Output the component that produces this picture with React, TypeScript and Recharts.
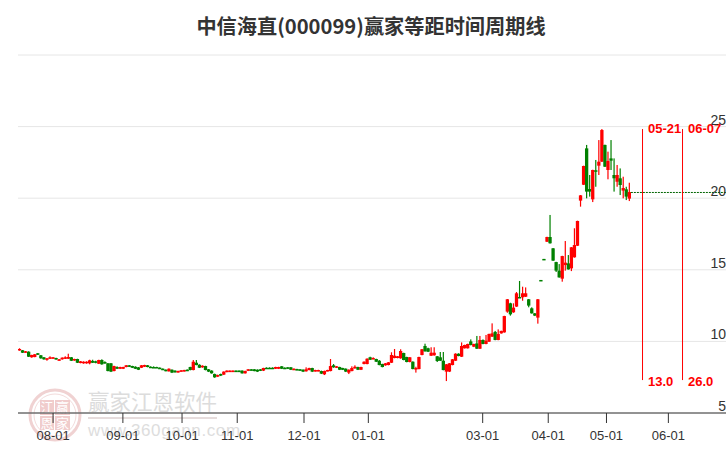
import React from 'react';
import { ComposedChart, Bar, XAxis, YAxis, CartesianGrid, ReferenceLine, ReferenceDot } from 'recharts';

const TITLE = '中信海直(000099)赢家等距时间周期线';

const opens = [
  9.38,9.38,9.24,9.28,8.89,8.91,9.17,9.03,8.89,8.72,
  8.79,8.82,8.84,8.68,8.75,8.79,8.79,8.89,8.68,8.77,
  8.49,8.47,8.47,8.47,8.63,8.61,8.44,8.70,8.56,8.47,
  8.47,7.93,8.21,8.09,8.09,8.21,8.33,8.28,8.23,8.19,
  8.16,8.23,8.33,8.23,8.21,8.21,8.16,8.09,8.02,7.91,
  8.02,7.96,7.84,7.91,7.91,8.02,8.21,8.00,8.51,8.37,
  8.19,8.28,8.05,7.96,7.72,7.54,7.72,7.68,7.86,7.89,
  7.89,7.96,7.96,7.96,7.77,7.96,8.05,8.05,8.02,8.05,
  7.96,8.16,8.16,8.16,8.09,8.09,8.26,8.16,8.19,8.19,
  8.02,8.07,8.05,8.02,7.91,8.00,8.14,7.91,7.93,7.93,
  7.70,7.93,7.93,8.33,8.16,8.21,8.14,8.09,7.82,7.93,
  8.12,8.21,8.02,8.42,8.42,8.89,8.77,8.77,8.65,8.42,
  8.33,8.35,8.51,8.84,8.84,8.82,9.19,8.91,8.56,8.58,
  8.05,8.07,9.05,9.68,9.52,9.00,9.03,8.96,8.89,8.65,
  7.89,7.89,8.35,8.65,9.14,8.93,9.52,9.52,10.00,9.63,
  9.86,9.49,10.10,9.82,9.98,10.33,10.66,10.10,10.56,10.63,
  12.08,12.66,12.03,12.43,13.10,13.08,13.12,12.94,12.31,11.96,
  11.66,14.29,15.76,16.96,17.29,16.50,15.54,14.94,14.38,15.33,
  15.45,15.10,15.87,16.68,19.83,20.94,23.48,20.64,19.92,21.95,
  22.27,22.55,23.72,21.97,22.78,21.62,21.15,21.39,20.53,20.62,19.97,
];
const closes = [
  9.47,9.21,9.31,8.93,9.05,9.10,9.07,8.82,8.75,8.82,
  8.89,8.89,8.75,8.75,8.86,8.89,8.91,8.65,8.77,8.51,
  8.61,8.58,8.58,8.68,8.51,8.51,8.70,8.40,8.47,7.93,
  7.89,8.28,8.09,8.21,8.21,8.33,8.23,8.16,8.09,8.02,
  8.33,8.35,8.21,8.19,8.19,8.19,8.12,8.02,7.93,8.09,
  7.82,7.84,7.93,7.98,8.00,7.96,8.00,8.58,8.35,8.16,
  8.30,8.00,7.89,7.77,7.49,7.65,7.61,7.89,7.96,7.96,
  7.96,7.89,7.89,7.77,7.93,8.05,7.98,7.93,7.89,7.96,
  8.14,8.12,8.12,8.09,8.21,8.21,8.09,8.09,8.09,8.02,
  8.09,8.00,7.98,7.89,8.05,8.14,7.89,8.00,8.00,7.75,
  7.93,8.00,8.28,8.19,8.26,8.02,8.02,7.89,8.02,8.14,
  8.23,8.02,8.21,8.58,8.79,8.72,8.84,8.58,8.35,8.21,
  8.47,8.54,9.05,9.00,8.96,9.33,8.70,8.56,8.89,8.07,
  8.14,8.91,9.45,9.31,9.28,9.21,9.21,8.63,8.65,8.00,
  8.40,8.47,8.75,9.14,8.98,9.68,9.75,9.82,9.75,9.82,
  9.49,10.10,9.82,10.05,10.52,10.56,10.10,10.52,10.73,11.77,
  12.94,11.89,12.36,13.36,13.06,13.36,13.36,12.50,11.96,11.80,
  12.94,14.25,15.70,17.29,16.85,15.64,14.94,14.47,15.96,15.50,
  15.03,16.57,16.73,18.41,20.20,22.25,20.46,20.46,21.97,21.85,
  22.55,24.76,22.20,22.60,22.62,21.39,21.62,20.92,20.71,20.11,20.43,
];
const highs = [
  9.52,9.40,9.33,9.31,9.07,9.12,9.19,9.05,8.91,8.84,
  8.96,8.91,8.86,8.77,8.89,8.96,9.14,8.91,8.79,8.79,
  8.63,8.61,8.61,8.72,8.72,8.65,8.72,8.75,8.61,8.49,
  8.49,8.30,8.26,8.23,8.23,8.35,8.35,8.30,8.26,8.21,
  8.35,8.37,8.35,8.26,8.26,8.23,8.19,8.12,8.05,8.12,
  8.05,7.98,7.96,8.00,8.02,8.05,8.23,8.70,8.70,8.40,
  8.33,8.30,8.07,7.98,7.75,7.68,7.75,7.91,7.98,7.98,
  7.98,7.98,7.98,7.98,7.96,8.07,8.07,8.07,8.05,8.07,
  8.16,8.19,8.19,8.19,8.23,8.23,8.28,8.19,8.21,8.21,
  8.12,8.09,8.07,8.05,8.19,8.16,8.16,8.02,8.02,7.96,
  7.96,8.02,8.77,8.42,8.28,8.23,8.16,8.12,8.05,8.26,
  8.33,8.23,8.23,8.61,8.82,8.93,8.89,8.79,8.70,8.44,
  8.49,8.56,9.24,9.47,8.98,9.45,9.21,8.93,8.91,8.61,
  8.23,8.93,9.47,9.84,9.56,9.59,9.59,8.98,9.26,9.26,
  8.42,8.49,8.77,9.17,9.17,9.93,9.77,9.84,10.14,9.84,
  10.38,10.38,10.14,10.45,10.54,11.26,10.73,10.84,10.75,11.79,
  12.96,12.70,12.66,13.45,14.22,13.82,13.77,12.96,12.38,11.98,
  12.96,14.29,15.76,17.31,18.83,16.52,15.56,15.40,15.98,17.01,
  16.03,16.59,17.90,18.43,20.22,22.27,23.72,21.62,21.99,22.67,
  24.06,24.83,23.74,23.25,24.06,22.78,22.32,22.08,21.50,20.80,21.08,
];
const lows = [
  9.35,9.19,9.21,8.91,8.86,8.89,9.05,8.79,8.72,8.65,
  8.77,8.79,8.72,8.65,8.72,8.77,8.77,8.63,8.65,8.49,
  8.47,8.44,8.44,8.40,8.49,8.47,8.42,8.37,8.44,7.91,
  7.86,7.91,8.07,8.07,8.07,8.19,8.21,8.14,8.07,8.00,
  8.14,8.21,8.19,8.16,8.16,8.16,8.09,8.00,7.91,7.89,
  7.79,7.82,7.82,7.89,7.89,7.93,7.98,7.98,8.33,8.14,
  8.16,7.98,7.86,7.75,7.46,7.51,7.58,7.65,7.84,7.86,
  7.86,7.86,7.86,7.75,7.75,7.93,7.96,7.91,7.86,7.93,
  7.93,8.09,8.09,8.07,8.07,8.07,8.07,8.07,8.07,8.00,
  8.00,7.98,7.96,7.86,7.89,7.98,7.86,7.89,7.91,7.72,
  7.65,7.91,7.91,8.16,8.14,8.00,8.00,7.86,7.72,7.91,
  8.09,8.00,8.00,8.40,8.40,8.70,8.75,8.56,8.33,8.19,
  8.30,8.33,8.49,8.82,8.82,8.79,8.68,8.54,8.54,8.05,
  7.82,8.05,9.03,9.28,9.26,8.98,9.00,8.56,8.63,7.98,
  7.23,7.86,8.33,8.63,8.96,8.91,9.50,9.50,9.72,9.60,
  9.47,9.47,9.80,9.80,9.96,10.31,10.08,10.08,10.54,10.61,
  12.00,11.80,12.00,12.41,13.03,12.84,13.10,12.38,11.94,11.77,
  11.24,14.25,15.70,16.94,16.83,15.62,14.85,14.45,14.17,14.94,
  15.01,14.91,15.85,16.66,19.41,20.92,19.99,20.11,19.73,20.80,
  21.62,22.53,22.18,21.32,21.97,20.46,20.80,20.22,19.99,19.87,19.80,
];

const monthLabels = ['08-01','09-01','10-01','11-01','12-01','01-01','03-01','04-01','05-01','06-01'];
const monthPositions = [11.0,33.9,53.3,71.4,93.3,114.4,151.9,173.4,192.5,212.8];
const priceTicks = [5,10,15,20,25,30];
const priceLabels = ['5','10','15','20','25',''];

const cycleX = [204.32,217.44];
const cycleDates = ['05-21','06-07'];
const cycleCounts = ['13.0','26.0'];
const cycleTop = 24.83;
const cycleBottom = 7.3;
const lastClose = 20.4;
const lastIndex = 200.5;
const domainEnd = 231.7;

const rows = opens.map((open, i) => ({ i, open, close: closes[i], range: [lows[i], highs[i]] }));

const Candle = (props: any) => {
  const { x, y, width, height, payload } = props;
  const [low, high] = payload.range;
  const up = payload.close >= payload.open;
  const color = up ? '#ff0000' : '#008000';
  const k = height / (high - low);
  const top = y + (high - Math.max(payload.open, payload.close)) * k;
  const bodyH = Math.max(1.5, Math.abs(payload.close - payload.open) * k);
  const mid = x + width / 2;
  return (
    <g>
      <rect x={mid - 0.6} y={y} width={1.2} height={Math.max(1, height)} fill={color} />
      <rect x={mid - 1.65} y={top} width={3.3} height={bodyH} fill={color} />
    </g>
  );
};

const XTick = (props: any) => {
  const { x, payload } = props;
  const idx = monthPositions.indexOf(payload.value);
  return (
    <text x={x} y={440} textAnchor="middle" fontSize={13} fill="#333" fontFamily="Arial, 'Liberation Sans', sans-serif">
      {monthLabels[idx]}
    </text>
  );
};

const YTick = (props: any) => {
  const { y, payload } = props;
  const idx = priceTicks.indexOf(payload.value);
  return (
    <text x={726} y={y - 2} textAnchor="end" fontSize={14} fill="#333" fontFamily="Arial, 'Liberation Sans', sans-serif">
      {priceLabels[idx]}
    </text>
  );
};

const redLabel = (text: string, dx: number, dy: number) => (props: any) => (
  <text
    x={props.cx + dx}
    y={props.cy + dy}
    fontSize={13}
    fontWeight="bold"
    fill="#ff0000"
    fontFamily="Arial, 'Liberation Sans', sans-serif"
  >
    {text}
  </text>
);

const Watermark = () => (
  <svg width={726} height={450} style={{ position: 'absolute', left: 0, top: 0 }}>
    <circle cx={55} cy={415} r={25} fill="none" stroke="#f0d2d2" strokeWidth={3} />
    <circle cx={55} cy={415} r={21} fill="none" stroke="#f3dcdc" strokeWidth={1} />
    <rect x={40} y={400} width={14} height={15} fill="#f0cccc" />
    <rect x={55} y={400} width={15} height={15} fill="#f0cccc" />
    <rect x={40} y={416} width={14} height={14} fill="#f0cccc" />
    <rect x={55} y={416} width={15} height={14} fill="#f0cccc" />
    <g fontSize={13} fill="#fff" textAnchor="middle" fontFamily="'Noto Sans CJK SC'">
      <text x={47} y={412}>江</text>
      <text x={62.5} y={412}>赢</text>
      <text x={47} y={428}>恩</text>
      <text x={62.5} y={428}>家</text>
    </g>
    <text x={88} y={410} fontSize={21.5} fill="#dcdcdc" fontFamily="'Noto Sans CJK SC'">赢家江恩软件</text>
    <rect x={88} y={417} width={129} height={2} fill="#e6dcdc" />
    <text x={88} y={436} fontSize={17} fill="#dddddd" fontFamily="Arial, 'Liberation Sans', sans-serif" letterSpacing={0.6}>www.360gann.com</text>
  </svg>
);

export default function App() {
  return (
    <div style={{ position: 'absolute', left: 0, top: 0, width: 726, height: 450, overflow: 'hidden', background: '#fff' }}>
      <Watermark />
      <div
        style={{
          position: 'absolute',
          left: 0,
          top: 12,
          width: 742,
          textAlign: 'center',
          fontSize: 20.2,
          lineHeight: '28px',
          fontWeight: 700,
          color: '#333',
          fontFamily: "'Noto Sans CJK SC', sans-serif",
        }}
      >
        {TITLE}
      </div>
      <div style={{ position: 'absolute', left: 0, top: 0 }}>
        <ComposedChart width={726} height={450} data={rows} margin={{ top: 55, right: 0, bottom: 0, left: 18 }}>
          <CartesianGrid vertical={false} stroke="#e6e6e6" strokeWidth={1} />
          <XAxis
            dataKey="i"
            type="number"
            domain={[-0.5, domainEnd]}
            ticks={monthPositions}
            tick={<XTick />}
            tickSize={10}
            interval={0}
            height={37}
            stroke="#333"
            allowDataOverflow
          />
          <YAxis
            orientation="right"
            mirror
            width={30}
            type="number"
            domain={[5, 30]}
            ticks={priceTicks}
            tick={<YTick />}
            axisLine={false}
            tickLine={false}
            interval={0}
            allowDataOverflow
          />
          <Bar dataKey="range" barSize={3} isAnimationActive={false} shape={<Candle />} />
          <ReferenceLine
            ifOverflow="visible"
            segment={[{ x: lastIndex, y: lastClose }, { x: domainEnd, y: lastClose }]}
            stroke="#006400"
            strokeDasharray="2 1"
          />
          {cycleX.map((x) => (
            <ReferenceLine
              key={x}
              ifOverflow="visible"
              segment={[{ x, y: cycleTop }, { x, y: cycleBottom }]}
              stroke="#ff0000"
            />
          ))}
          {cycleX.map((x, k) => (
            <ReferenceDot key={'d' + x} x={x} y={cycleTop} r={0} ifOverflow="visible" shape={redLabel(cycleDates[k], 5.5, 4)} />
          ))}
          {cycleX.map((x, k) => (
            <ReferenceDot key={'c' + x} x={x} y={cycleBottom} r={0} ifOverflow="visible" shape={redLabel(cycleCounts[k], 5.5, 6)} />
          ))}
        </ComposedChart>
      </div>
    </div>
  );
}
